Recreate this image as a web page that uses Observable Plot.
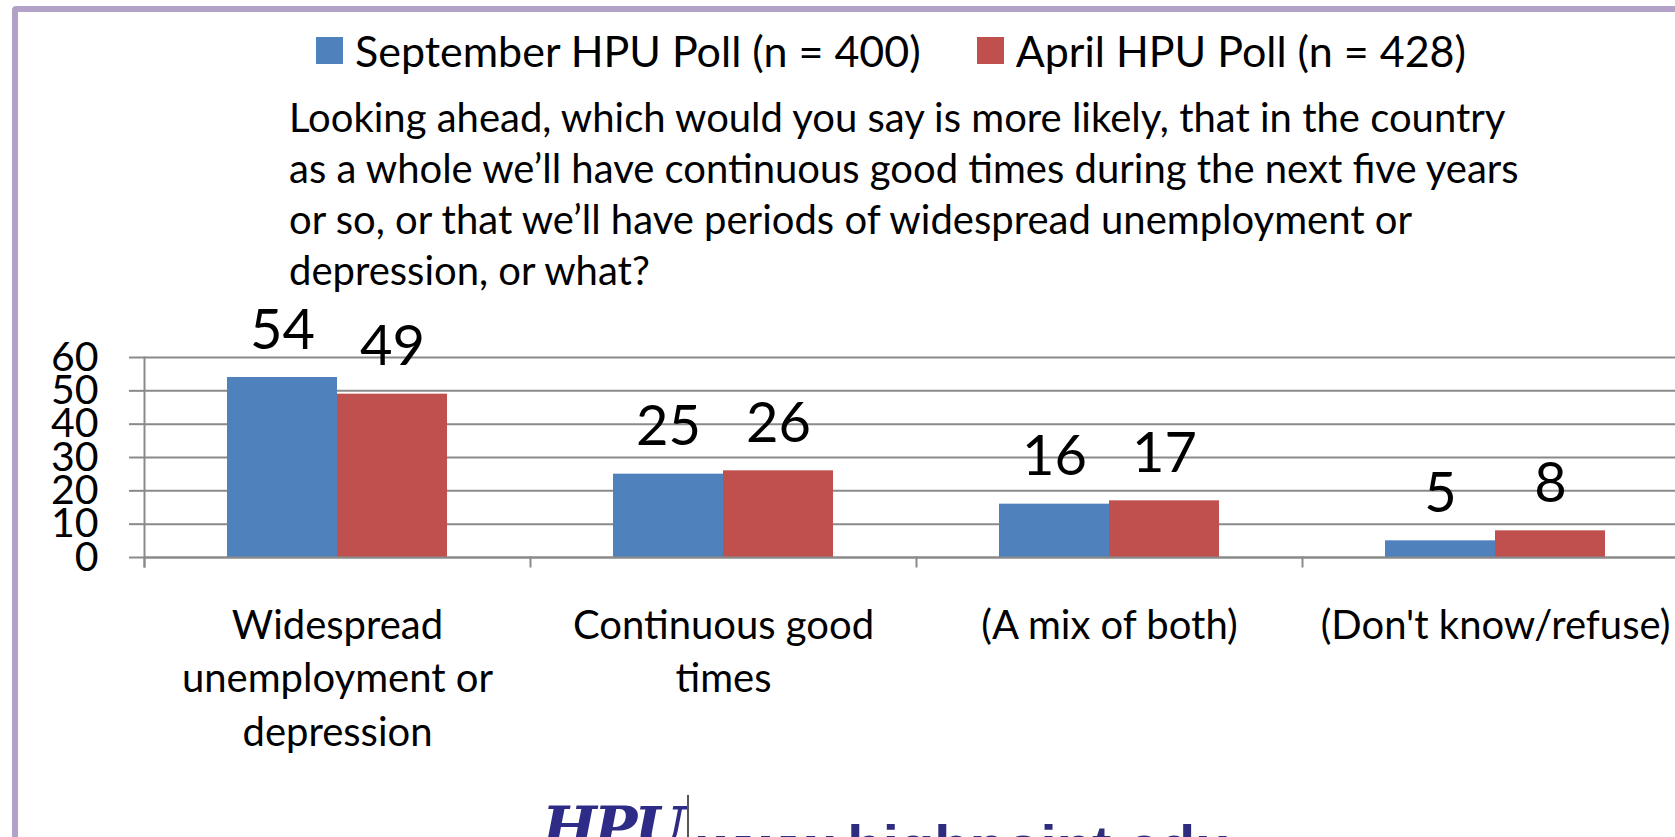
<!DOCTYPE html>
<html>
<head>
<meta charset="utf-8">
<script src="https://cdn.jsdelivr.net/npm/d3@7"></script>
<script src="https://cdn.jsdelivr.net/npm/@observablehq/plot@0.6"></script>
<style>
  html, body { margin: 0; padding: 0; background: #fff; overflow: hidden; width: 1675px; height: 837px; }
  body { position: relative; font-family: Lato, "Open Sans", sans-serif; color: #000; }
  #border { position: absolute; left: 12px; top: 6px; width: 1720px; height: 900px; border: 6px solid #B3A2C7; border-radius: 4px; box-sizing: border-box; }
  #legend { position: absolute; left: 316px; top: 24px; height: 52px; display: flex; align-items: center; font-size: 43px; white-space: nowrap; }
  #legend .item { display: flex; align-items: center; margin-right: 56px; }
  #legend .sw { width: 27px; height: 27px; margin-right: 12px; }
  #question { position: absolute; left: 289px; top: 92px; font-size: 40px; line-height: 51px; white-space: nowrap; }
  #chart { position: absolute; left: 0; top: 290px; width: 1720px; }
  #logo { position: absolute; left: 542px; top: 794px; font-family: "DejaVu Serif", serif; font-weight: bold; font-style: italic; font-size: 58px; color: #2E2C86; letter-spacing: -3px; }
  #sep { position: absolute; left: 687px; top: 795px; width: 2px; height: 60px; background: #555; }
  #url { position: absolute; left: 698px; top: 812px; font-family: "Liberation Sans", Arial, sans-serif; font-weight: bold; font-size: 58px; color: #2E2C7E; white-space: nowrap; }
</style>
</head>
<body>
<div id="border"></div>
<div id="legend"></div>
<div id="question"></div>
<div id="chart"></div>
<div id="logo">HPU</div>
<div id="sep"></div>
<div id="url">www.highpoint.edu</div>
<script>
// ---- data ----
const categories = [
  "Widespread unemployment or depression",
  "Continuous good times",
  "(A mix of both)",
  "(Don't know/refuse)"
];
const categoryLabels = [
  "Widespread\nunemployment or\ndepression",
  "Continuous good\ntimes",
  "(A mix of both)",
  "(Don't know/refuse)"
];
const seriesNames = ["September HPU Poll (n = 400)", "April HPU Poll (n = 428)"];
const september = [54, 25, 16, 5];
const april = [49, 26, 17, 8];
const seriesColors = ["#4F81BD", "#C0504D"];
const yTicks = [0, 10, 20, 30, 40, 50, 60];
const questionLines = [
  "Looking ahead, which would you say is more likely, that in the country",
  "as a whole we\u2019ll have continuous good times during the next five years",
  "or so, or that we\u2019ll have periods of widespread unemployment or",
  "depression, or what?"
];

// ---- legend & question (HTML) ----
const legend = document.getElementById("legend");
seriesNames.forEach((name, i) => {
  const item = document.createElement("div");
  item.className = "item";
  const sw = document.createElement("div");
  sw.className = "sw";
  sw.style.background = seriesColors[i];
  const label = document.createElement("span");
  label.textContent = name;
  item.appendChild(sw);
  item.appendChild(label);
  legend.appendChild(item);
});
const q = document.getElementById("question");
questionLines.forEach(line => {
  const d = document.createElement("div");
  d.textContent = line;
  q.appendChild(d);
});

// ---- rows ----
const rows = categories.flatMap((c, i) => [
  {category: c, series: seriesNames[0], value: september[i]},
  {category: c, series: seriesNames[1], value: april[i]}
]);

const gridColor = "#8A8A8A";

const chart = Plot.plot({
  width: 1720,
  height: 470,
  marginTop: 67,
  marginBottom: 203,
  marginLeft: 144,
  marginRight: 32,
  style: {fontFamily: "Lato, 'Open Sans', sans-serif", color: "#000", background: "transparent", overflow: "visible", maxWidth: "none"},
  fx: {domain: categories, padding: 0, label: null},
  x: {domain: seriesNames, paddingInner: 0, paddingOuter: 0.75, axis: null},
  y: {domain: [0, 60], label: null},
  color: {domain: seriesNames, range: seriesColors},
  marks: [
    Plot.gridY(yTicks, {stroke: gridColor, strokeOpacity: 1, strokeWidth: 2}),
    Plot.axisY(yTicks, {tickSize: 15, tickPadding: 31, fontSize: 41, stroke: gridColor, strokeWidth: 2, fill: "#000", label: null}),
    Plot.barY(rows, {fx: "category", x: "series", y: "value", fill: "series"}),
    Plot.ruleY([0], {stroke: gridColor, strokeWidth: 2}),
    Plot.frame({anchor: "left", facetAnchor: "left", stroke: gridColor, strokeWidth: 2, insetBottom: -9}),
    Plot.frame({anchor: "left", stroke: gridColor, strokeWidth: 2, insetTop: 200, insetBottom: -9}),
    Plot.text(rows, {fx: "category", x: "series", y: "value", text: d => String(d.value), fontSize: 56, lineAnchor: "bottom", dy: -29, fill: "#000"}),
    Plot.axisFx({anchor: "bottom", tickSize: 0, tickPadding: 44, fontSize: 40, lineHeight: 1.33, lineAnchor: "top",
      tickFormat: c => categoryLabels[categories.indexOf(c)], label: null, fill: "#000"})
  ]
});
document.getElementById("chart").appendChild(chart);
</script>
</body>
</html>
